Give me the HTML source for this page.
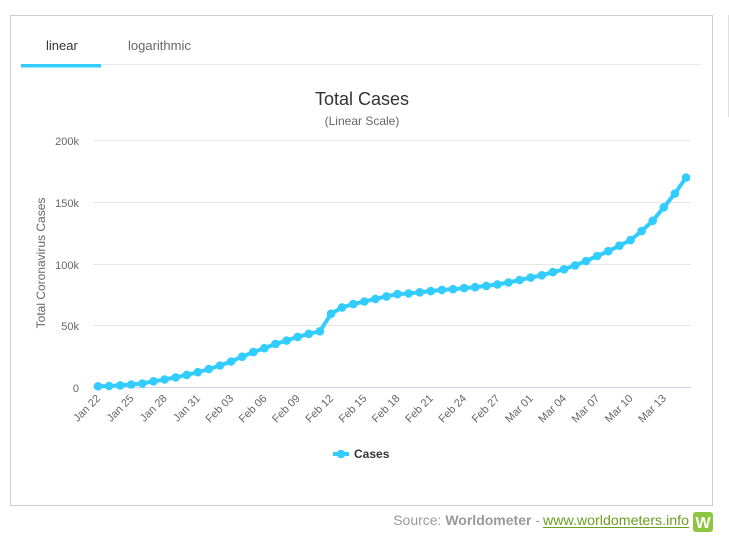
<!DOCTYPE html>
<html><head><meta charset="utf-8"><style>
html,body{margin:0;padding:0;background:#fff;width:729px;height:543px;overflow:hidden}
svg{display:block}
text{font-family:"Liberation Sans",Arial,sans-serif}
</style></head><body>
<svg width="729" height="543" viewBox="0 0 729 543" xmlns="http://www.w3.org/2000/svg">
<!-- panel -->
<rect x="10.5" y="15.5" width="702" height="490" fill="#fff" stroke="#cccccc" stroke-width="1"/>
<line x1="728.5" y1="15" x2="728.5" y2="117" stroke="#e0e0e0" stroke-width="1"/>
<!-- tabs -->
<line x1="21" y1="64.5" x2="701" y2="64.5" stroke="#ebebeb" stroke-width="1"/>
<rect x="21" y="64" width="80" height="3.5" fill="#33ccff"/>
<text x="46" y="50" font-size="13" fill="#333">linear</text>
<text x="128" y="50" font-size="13" fill="#666">logarithmic</text>
<!-- titles -->
<text x="362" y="105" font-size="18" fill="#333" text-anchor="middle">Total Cases</text>
<text x="362" y="125" font-size="12" fill="#666" text-anchor="middle">(Linear Scale)</text>
<!-- grid -->
<g stroke="#e6e6e6" stroke-width="1">
<line x1="93" y1="140.5" x2="691" y2="140.5"/>
<line x1="93" y1="202.5" x2="691" y2="202.5"/>
<line x1="93" y1="264.5" x2="691" y2="264.5"/>
<line x1="93" y1="325.5" x2="691" y2="325.5"/>
</g>
<line x1="93" y1="387.5" x2="691" y2="387.5" stroke="#ccd6eb" stroke-width="1"/>
<!-- y labels -->
<g font-size="11" fill="#666" text-anchor="end">
<text x="79" y="145">200k</text>
<text x="79" y="207">150k</text>
<text x="79" y="269">100k</text>
<text x="79" y="330">50k</text>
<text x="79" y="392">0</text>
</g>
<text transform="translate(45,263) rotate(-90)" font-size="12" fill="#666" text-anchor="middle">Total Coronavirus Cases</text>
<!-- x labels -->
<g font-size="11" fill="#666" text-anchor="end">
<text transform="translate(101,399) rotate(-45)">Jan 22</text>
<text transform="translate(134.3,399) rotate(-45)">Jan 25</text>
<text transform="translate(167.6,399) rotate(-45)">Jan 28</text>
<text transform="translate(200.8,399) rotate(-45)">Jan 31</text>
<text transform="translate(234.1,399) rotate(-45)">Feb 03</text>
<text transform="translate(267.4,399) rotate(-45)">Feb 06</text>
<text transform="translate(300.7,399) rotate(-45)">Feb 09</text>
<text transform="translate(334,399) rotate(-45)">Feb 12</text>
<text transform="translate(367.3,399) rotate(-45)">Feb 15</text>
<text transform="translate(400.5,399) rotate(-45)">Feb 18</text>
<text transform="translate(433.8,399) rotate(-45)">Feb 21</text>
<text transform="translate(467.1,399) rotate(-45)">Feb 24</text>
<text transform="translate(500.4,399) rotate(-45)">Feb 27</text>
<text transform="translate(533.7,399) rotate(-45)">Mar 01</text>
<text transform="translate(567,399) rotate(-45)">Mar 04</text>
<text transform="translate(600.2,399) rotate(-45)">Mar 07</text>
<text transform="translate(633.5,399) rotate(-45)">Mar 10</text>
<text transform="translate(666.8,399) rotate(-45)">Mar 13</text>
</g>
<!-- series -->
<polyline fill="none" stroke="#33ccff" stroke-width="4" stroke-linejoin="round" stroke-linecap="round" points="98,386.3 109.1,386 120.2,385.4 131.3,384.5 142.4,383.5 153.5,381.3 164.6,379.5 175.7,377.4 186.8,374.9 197.8,372.2 208.9,369 220,365.5 231.1,361.5 242.2,356.7 253.3,352.1 264.4,348.2 275.5,343.9 286.6,340.6 297.7,336.9 308.8,333.8 319.9,331.3 331,313.8 342.1,307.4 353.2,304.1 364.3,301.5 375.4,298.9 386.5,296.4 397.5,294.1 408.6,293.5 419.7,292.3 430.8,291.1 441.9,289.9 453,289.2 464.1,288.1 475.2,287.2 486.3,285.9 497.4,284.4 508.5,282.5 519.6,280 530.7,277.6 541.8,275.3 552.9,272.1 564,269.3 575.1,265.4 586.1,261 597.2,256 608.3,251.2 619.4,245.7 630.5,240.1 641.6,231.1 652.7,220.8 663.8,207.3 674.9,193.5 686,177.6"/>
<g fill="#33ccff">
<circle cx="98" cy="386.3" r="4.3"/><circle cx="109.1" cy="386" r="4.3"/><circle cx="120.2" cy="385.4" r="4.3"/><circle cx="131.3" cy="384.5" r="4.3"/><circle cx="142.4" cy="383.5" r="4.3"/><circle cx="153.5" cy="381.3" r="4.3"/><circle cx="164.6" cy="379.5" r="4.3"/><circle cx="175.7" cy="377.4" r="4.3"/><circle cx="186.8" cy="374.9" r="4.3"/><circle cx="197.8" cy="372.2" r="4.3"/><circle cx="208.9" cy="369" r="4.3"/><circle cx="220" cy="365.5" r="4.3"/><circle cx="231.1" cy="361.5" r="4.3"/><circle cx="242.2" cy="356.7" r="4.3"/><circle cx="253.3" cy="352.1" r="4.3"/><circle cx="264.4" cy="348.2" r="4.3"/><circle cx="275.5" cy="343.9" r="4.3"/><circle cx="286.6" cy="340.6" r="4.3"/><circle cx="297.7" cy="336.9" r="4.3"/><circle cx="308.8" cy="333.8" r="4.3"/><circle cx="319.9" cy="331.3" r="4.3"/><circle cx="331" cy="313.8" r="4.3"/><circle cx="342.1" cy="307.4" r="4.3"/><circle cx="353.2" cy="304.1" r="4.3"/><circle cx="364.3" cy="301.5" r="4.3"/><circle cx="375.4" cy="298.9" r="4.3"/><circle cx="386.5" cy="296.4" r="4.3"/><circle cx="397.5" cy="294.1" r="4.3"/><circle cx="408.6" cy="293.5" r="4.3"/><circle cx="419.7" cy="292.3" r="4.3"/><circle cx="430.8" cy="291.1" r="4.3"/><circle cx="441.9" cy="289.9" r="4.3"/><circle cx="453" cy="289.2" r="4.3"/><circle cx="464.1" cy="288.1" r="4.3"/><circle cx="475.2" cy="287.2" r="4.3"/><circle cx="486.3" cy="285.9" r="4.3"/><circle cx="497.4" cy="284.4" r="4.3"/><circle cx="508.5" cy="282.5" r="4.3"/><circle cx="519.6" cy="280" r="4.3"/><circle cx="530.7" cy="277.6" r="4.3"/><circle cx="541.8" cy="275.3" r="4.3"/><circle cx="552.9" cy="272.1" r="4.3"/><circle cx="564" cy="269.3" r="4.3"/><circle cx="575.1" cy="265.4" r="4.3"/><circle cx="586.1" cy="261" r="4.3"/><circle cx="597.2" cy="256" r="4.3"/><circle cx="608.3" cy="251.2" r="4.3"/><circle cx="619.4" cy="245.7" r="4.3"/><circle cx="630.5" cy="240.1" r="4.3"/><circle cx="641.6" cy="231.1" r="4.3"/><circle cx="652.7" cy="220.8" r="4.3"/><circle cx="663.8" cy="207.3" r="4.3"/><circle cx="674.9" cy="193.5" r="4.3"/><circle cx="686" cy="177.6" r="4.3"/>
</g>
<!-- legend -->
<line x1="333" y1="454" x2="349" y2="454" stroke="#33ccff" stroke-width="4"/>
<circle cx="341" cy="454" r="4.3" fill="#33ccff"/>
<text x="354" y="458" font-size="12" font-weight="bold" fill="#333">Cases</text>
<!-- footer -->
<text x="689" y="525" font-size="14" fill="#6a9f22" text-anchor="end" textLength="146" lengthAdjust="spacingAndGlyphs">www.worldometers.info</text>
<line x1="543" y1="527.5" x2="689" y2="527.5" stroke="#6a9f22" stroke-width="1"/>
<text x="540" y="525" font-size="14" fill="#999" text-anchor="end"><tspan>Source: </tspan><tspan font-weight="bold">Worldometer</tspan><tspan> -</tspan></text>
<rect x="693" y="512" width="20" height="20" rx="3" fill="#8cc63f"/>
<text x="703" y="528" font-size="16" font-weight="bold" fill="#fff" text-anchor="middle">W</text>
</svg>
</body></html>
